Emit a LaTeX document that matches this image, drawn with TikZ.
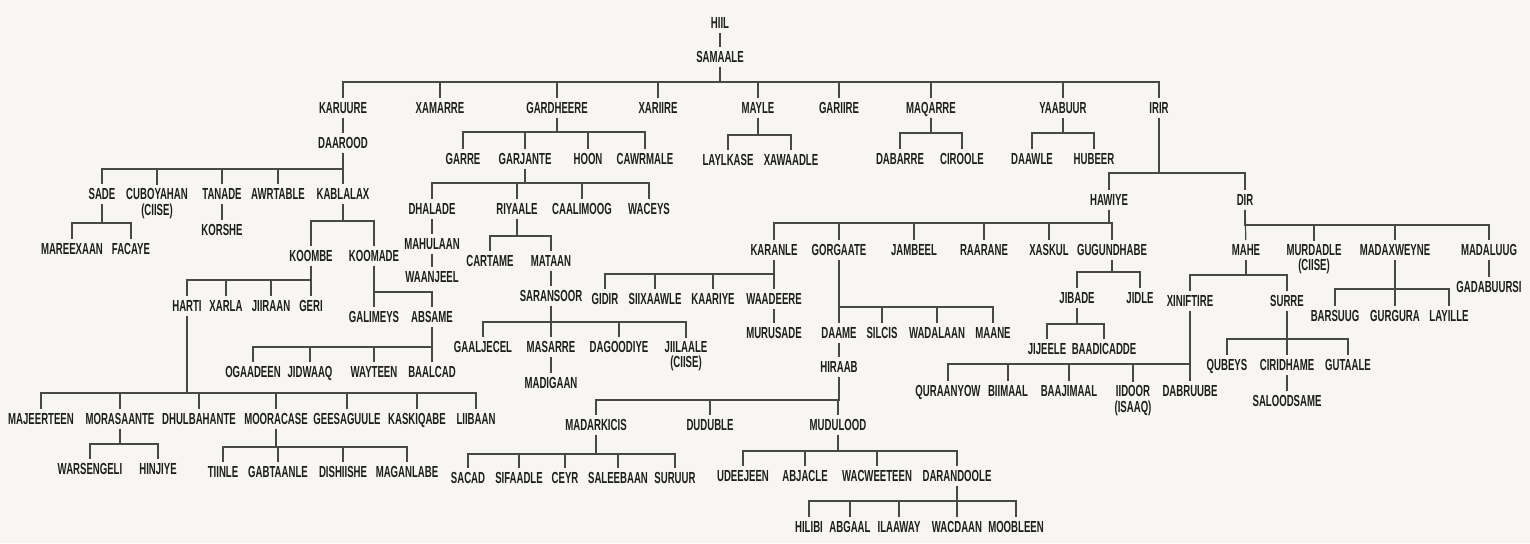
\documentclass[tikz,border=0pt]{standalone}
\usepackage{fontspec}
\newfontfamily\clanfont[FakeStretch=0.60]{Liberation Sans Bold}
\usetikzlibrary{shapes,arrows}
\definecolor{paper}{HTML}{F7F6F2}
\definecolor{ink}{HTML}{1E1E1E}
\definecolor{wire}{HTML}{474747}
\tikzstyle{line} = [draw, wire, line width=0.9pt]
\tikzstyle{clan} = [font=\clanfont\fontsize{12}{11.3}\selectfont, text=ink, inner sep=3pt, text height=8.3pt, text depth=0pt]
\tikzstyle{clan2} = [clan, align=center, text height={}, text depth={}, anchor=north]

\begin{document}
\begin{tikzpicture}[x=0.75pt,y=-0.75pt]
\path [fill=paper, use as bounding box] (0,0) rectangle (1530,543);
% top
\node (hiil) at (720,23) [clan] {HIIL};
\node (samaale) at (720,57) [clan] {SAMAALE};
\node (karuure) at (343,108) [clan] {KARUURE};
\node (xamarre) at (440,108) [clan] {XAMARRE};
\node (gardheere) at (557,108) [clan] {GARDHEERE};
\node (xariire) at (658,108) [clan] {XARIIRE};
\node (mayle) at (758,108) [clan] {MAYLE};
\node (gariire) at (839,108) [clan] {GARIIRE};
\node (maqarre) at (931,108) [clan] {MAQARRE};
\node (yaabuur) at (1063,108) [clan] {YAABUUR};
\node (irir) at (1159,108) [clan] {IRIR};
% daarood
\node (daarood) at (343,143) [clan] {DAAROOD};
\node (sade) at (102,194) [clan] {SADE};
\node (cuboyahan) at (157,184.5) [clan2] {CUBOYAHAN\\(CIISE)};
\node (tanade) at (222,194) [clan] {TANADE};
\node (awrtable) at (278,194) [clan] {AWRTABLE};
\node (kablalax) at (343,194) [clan] {KABLALAX};
\node (korshe) at (222,230) [clan] {KORSHE};
\node (mareexaan) at (72,249) [clan] {MAREEXAAN};
\node (facaye) at (131,249) [clan] {FACAYE};
\node (koombe) at (311,256) [clan] {KOOMBE};
\node (koomade) at (374,256) [clan] {KOOMADE};
\node (harti) at (187,306) [clan] {HARTI};
\node (xarla) at (226,306) [clan] {XARLA};
\node (jiiraan) at (271,306) [clan] {JIIRAAN};
\node (geri) at (311,306) [clan] {GERI};
\node (galimeys) at (374,317) [clan] {GALIMEYS};
\node (absame) at (432,317) [clan] {ABSAME};
\node (ogaadeen) at (253,372) [clan] {OGAADEEN};
\node (jidwaaq) at (310,372) [clan] {JIDWAAQ};
\node (wayteen) at (374,372) [clan] {WAYTEEN};
\node (baalcad) at (432,372) [clan] {BAALCAD};
\node (majeerteen) at (41,419) [clan] {MAJEERTEEN};
\node (morasaante) at (120,419) [clan] {MORASAANTE};
\node (dhulbahante) at (199,419) [clan] {DHULBAHANTE};
\node (mooracase) at (276,419) [clan] {MOORACASE};
\node (geesaguule) at (347,419) [clan] {GEESAGUULE};
\node (kaskiqabe) at (417,419) [clan] {KASKIQABE};
\node (liibaan) at (476,419) [clan] {LIIBAAN};
\node (warsengeli) at (90,469) [clan] {WARSENGELI};
\node (hinjiye) at (158,469) [clan] {HINJIYE};
\node (tiinle) at (223,472) [clan] {TIINLE};
\node (gabtaanle) at (278,472) [clan] {GABTAANLE};
\node (dishiishe) at (343,472) [clan] {DISHIISHE};
\node (maganlabe) at (407,472) [clan] {MAGANLABE};
% gardheere
\node (garre) at (463,159) [clan] {GARRE};
\node (garjante) at (525,159) [clan] {GARJANTE};
\node (hoon) at (588,159) [clan] {HOON};
\node (cawrmale) at (645,159) [clan] {CAWRMALE};
\node (dhalade) at (432,209) [clan] {DHALADE};
\node (riyaale) at (517,209) [clan] {RIYAALE};
\node (caalimoog) at (582,209) [clan] {CAALIMOOG};
\node (waceys) at (649,209) [clan] {WACEYS};
\node (mahulaan) at (432,244) [clan] {MAHULAAN};
\node (waanjeel) at (432,277) [clan] {WAANJEEL};
\node (cartame) at (490,261) [clan] {CARTAME};
\node (mataan) at (551,261) [clan] {MATAAN};
\node (saransoor) at (551,296) [clan] {SARANSOOR};
\node (gaaljecel) at (483,347) [clan] {GAALJECEL};
\node (masarre) at (551,347) [clan] {MASARRE};
\node (dagoodiye) at (619,347) [clan] {DAGOODIYE};
\node (jiilaale) at (686,337.5) [clan2] {JIILAALE\\(CIISE)};
\node (madigaan) at (551,383) [clan] {MADIGAAN};
% mayle, maqarre, yaabuur
\node (laylkase) at (728,160) [clan] {LAYLKASE};
\node (xawaadle) at (791,160) [clan] {XAWAADLE};
\node (dabarre) at (900,159) [clan] {DABARRE};
\node (ciroole) at (962,159) [clan] {CIROOLE};
\node (daawle) at (1032,159) [clan] {DAAWLE};
\node (hubeer) at (1094,159) [clan] {HUBEER};
% irir
\node (hawiye) at (1109,200) [clan] {HAWIYE};
\node (dir) at (1245,200) [clan] {DIR};
\node (karanle) at (774,250) [clan] {KARANLE};
\node (gorgaate) at (839,250) [clan] {GORGAATE};
\node (jambeel) at (914,250) [clan] {JAMBEEL};
\node (raarane) at (984,250) [clan] {RAARANE};
\node (xaskul) at (1049,250) [clan] {XASKUL};
\node (gugundhabe) at (1112,250) [clan] {GUGUNDHABE};
\node (gidir) at (605,299) [clan] {GIDIR};
\node (siixaawle) at (655,299) [clan] {SIIXAAWLE};
\node (kaariye) at (713,299) [clan] {KAARIYE};
\node (waadeere) at (774,299) [clan] {WAADEERE};
\node (murusade) at (774,333) [clan] {MURUSADE};
\node (daame) at (839,333) [clan] {DAAME};
\node (silcis) at (882,333) [clan] {SILCIS};
\node (wadalaan) at (937,333) [clan] {WADALAAN};
\node (maane) at (993,333) [clan] {MAANE};
\node (hiraab) at (839,367) [clan] {HIRAAB};
\node (madarkicis) at (596,425) [clan] {MADARKICIS};
\node (duduble) at (710,425) [clan] {DUDUBLE};
\node (mudulood) at (838,425) [clan] {MUDULOOD};
\node (sacad) at (468,478) [clan] {SACAD};
\node (sifaadle) at (519,478) [clan] {SIFAADLE};
\node (ceyr) at (565,478) [clan] {CEYR};
\node (saleebaan) at (618,478) [clan] {SALEEBAAN};
\node (suruur) at (675,478) [clan] {SURUUR};
\node (udeejeen) at (743,476) [clan] {UDEEJEEN};
\node (abjacle) at (805,476) [clan] {ABJACLE};
\node (wacweeteen) at (877,476) [clan] {WACWEETEEN};
\node (darandoole) at (957,476) [clan] {DARANDOOLE};
\node (hilibi) at (809,527) [clan] {HILIBI};
\node (abgaal) at (850,527) [clan] {ABGAAL};
\node (ilaaway) at (899,527) [clan] {ILAAWAY};
\node (wacdaan) at (957,527) [clan] {WACDAAN};
\node (moobleen) at (1016,527) [clan] {MOOBLEEN};
\node (jibade) at (1077,298) [clan] {JIBADE};
\node (jidle) at (1140,298) [clan] {JIDLE};
\node (jijeele) at (1047,349) [clan] {JIJEELE};
\node (baadicadde) at (1104,349) [clan] {BAADICADDE};
% dir
\node (mahe) at (1246,250) [clan] {MAHE};
\node (murdadle) at (1314,240.5) [clan2] {MURDADLE\\(CIISE)};
\node (madaxweyne) at (1395,250) [clan] {MADAXWEYNE};
\node (madaluug) at (1489,250) [clan] {MADALUUG};
\node (gadabuursi) at (1489,287) [clan] {GADABUURSI};
\node (barsuug) at (1335,316) [clan] {BARSUUG};
\node (gurgura) at (1395,316) [clan] {GURGURA};
\node (layille) at (1449,316) [clan] {LAYILLE};
\node (xiniftire) at (1190,301) [clan] {XINIFTIRE};
\node (surre) at (1287,301) [clan] {SURRE};
\node (qubeys) at (1227,365) [clan] {QUBEYS};
\node (ciridhame) at (1287,365) [clan] {CIRIDHAME};
\node (gutaale) at (1348,365) [clan] {GUTAALE};
\node (saloodsame) at (1287,401) [clan] {SALOODSAME};
\node (quraanyow) at (948,391) [clan] {QURAANYOW};
\node (biimaal) at (1008,391) [clan] {BIIMAAL};
\node (baajimaal) at (1069,391) [clan] {BAAJIMAAL};
\node (iidoor) at (1133,381.5) [clan2] {IIDOOR\\(ISAAQ)};
\node (dabruube) at (1190,391) [clan] {DABRUUBE};
% fork levels
\coordinate (fsamaale) at (720,82);
\coordinate (fdaarood) at (343,169);
\coordinate (fsade) at (102,223);
\coordinate (fkablalax) at (343,221);
\coordinate (fkoombe) at (311,280);
\coordinate (fkoomade) at (374,292);
\coordinate (fabsame) at (432,347);
\coordinate (fharti) at (187,393);
\coordinate (fmorasaante) at (121,444);
\coordinate (fmooracase) at (276,447);
\coordinate (fgardheere) at (557,132);
\coordinate (fgarjante) at (525,183);
\coordinate (friyaale) at (517,236);
\coordinate (fsaransoor) at (551,322);
\coordinate (fmayle) at (758,135);
\coordinate (fmaqarre) at (931,133);
\coordinate (fyaabuur) at (1063,133);
\coordinate (firir) at (1159,173);
\coordinate (fhawiye) at (1109,223);
\coordinate (fkaranle) at (774,274);
\coordinate (fgorgaate) at (839,307);
\coordinate (fhiraab) at (839,400);
\coordinate (fmadarkicis) at (596,454);
\coordinate (fmudulood) at (838,451);
\coordinate (fdarandoole) at (957,501);
\coordinate (fgugundhabe) at (1109,272);
\coordinate (fjibade) at (1077,324);
\coordinate (fdir) at (1245,225);
\coordinate (fmadaxweyne) at (1395,289);
\coordinate (fmahe) at (1246,275);
\coordinate (fsurre) at (1287,339);
\coordinate (fxiniftire) at (1190,364);
% draw lines
\path [line] (hiil) -- (samaale);
\path [line] (samaale) |- (fsamaale -| karuure) -- (karuure);
\path [line] (samaale) |- (fsamaale -| xamarre) -- (xamarre);
\path [line] (samaale) |- (fsamaale -| gardheere) -- (gardheere);
\path [line] (samaale) |- (fsamaale -| xariire) -- (xariire);
\path [line] (samaale) |- (fsamaale -| mayle) -- (mayle);
\path [line] (samaale) |- (fsamaale -| gariire) -- (gariire);
\path [line] (samaale) |- (fsamaale -| maqarre) -- (maqarre);
\path [line] (samaale) |- (fsamaale -| yaabuur) -- (yaabuur);
\path [line] (samaale) |- (fsamaale -| irir) -- (irir);

\path [line] (karuure) -- (daarood);
\path [line] (daarood) |- (fdaarood -| sade) -- (sade);
\path [line] (daarood) |- (fdaarood -| cuboyahan) -- (cuboyahan);
\path [line] (daarood) |- (fdaarood -| tanade) -- (tanade);
\path [line] (daarood) |- (fdaarood -| awrtable) -- (awrtable);
\path [line] (daarood) -- (kablalax);
\path [line] (tanade) -- (korshe);
\path [line] (sade) |- (fsade -| mareexaan) -- (mareexaan);
\path [line] (sade) |- (fsade -| facaye) -- (facaye);
\path [line] (kablalax) |- (fkablalax -| koombe) -- (koombe);
\path [line] (kablalax) |- (fkablalax -| koomade) -- (koomade);
\path [line] (koombe) |- (fkoombe -| harti) -- (harti);
\path [line] (koombe) |- (fkoombe -| xarla) -- (xarla);
\path [line] (koombe) |- (fkoombe -| jiiraan) -- (jiiraan);
\path [line] (koombe) -- (geri);
\path [line] (koomade) -- (galimeys);
\path [line] (koomade) |- (fkoomade -| absame) -- (absame);
\path [line] (absame) |- (fabsame -| ogaadeen) -- (ogaadeen);
\path [line] (absame) |- (fabsame -| jidwaaq) -- (jidwaaq);
\path [line] (absame) |- (fabsame -| wayteen) -- (wayteen);
\path [line] (absame) -- (baalcad);
\path [line] (harti) |- (fharti -| majeerteen) -- (majeerteen);
\path [line] (harti) |- (fharti -| morasaante) -- (morasaante);
\path [line] (harti) |- (fharti -| dhulbahante) -- (dhulbahante);
\path [line] (harti) |- (fharti -| mooracase) -- (mooracase);
\path [line] (harti) |- (fharti -| geesaguule) -- (geesaguule);
\path [line] (harti) |- (fharti -| kaskiqabe) -- (kaskiqabe);
\path [line] (harti) |- (fharti -| liibaan) -- (liibaan);
\path [line] (morasaante) |- (fmorasaante -| warsengeli) -- (warsengeli);
\path [line] (morasaante) |- (fmorasaante -| hinjiye) -- (hinjiye);
\path [line] (mooracase) |- (fmooracase -| tiinle) -- (tiinle);
\path [line] (mooracase) |- (fmooracase -| gabtaanle) -- (gabtaanle);
\path [line] (mooracase) |- (fmooracase -| dishiishe) -- (dishiishe);
\path [line] (mooracase) |- (fmooracase -| maganlabe) -- (maganlabe);

\path [line] (gardheere) |- (fgardheere -| garre) -- (garre);
\path [line] (gardheere) |- (fgardheere -| garjante) -- (garjante);
\path [line] (gardheere) |- (fgardheere -| hoon) -- (hoon);
\path [line] (gardheere) |- (fgardheere -| cawrmale) -- (cawrmale);
\path [line] (garjante) |- (fgarjante -| dhalade) -- (dhalade);
\path [line] (garjante) |- (fgarjante -| riyaale) -- (riyaale);
\path [line] (garjante) |- (fgarjante -| caalimoog) -- (caalimoog);
\path [line] (garjante) |- (fgarjante -| waceys) -- (waceys);
\path [line] (dhalade) -- (mahulaan);
\path [line] (mahulaan) -- (waanjeel);
\path [line] (riyaale) |- (friyaale -| cartame) -- (cartame);
\path [line] (riyaale) |- (friyaale -| mataan) -- (mataan);
\path [line] (mataan) -- (saransoor);
\path [line] (saransoor) |- (fsaransoor -| gaaljecel) -- (gaaljecel);
\path [line] (saransoor) -- (masarre);
\path [line] (saransoor) |- (fsaransoor -| dagoodiye) -- (dagoodiye);
\path [line] (saransoor) |- (fsaransoor -| jiilaale) -- (jiilaale);
\path [line] (masarre) -- (madigaan);

\path [line] (mayle) |- (fmayle -| laylkase) -- (laylkase);
\path [line] (mayle) |- (fmayle -| xawaadle) -- (xawaadle);
\path [line] (maqarre) |- (fmaqarre -| dabarre) -- (dabarre);
\path [line] (maqarre) |- (fmaqarre -| ciroole) -- (ciroole);
\path [line] (yaabuur) |- (fyaabuur -| daawle) -- (daawle);
\path [line] (yaabuur) |- (fyaabuur -| hubeer) -- (hubeer);

\path [line] (irir) |- (firir -| hawiye) -- (hawiye);
\path [line] (irir) |- (firir -| dir) -- (dir);
\path [line] (hawiye) |- (fhawiye -| karanle) -- (karanle);
\path [line] (hawiye) |- (fhawiye -| gorgaate) -- (gorgaate);
\path [line] (hawiye) |- (fhawiye -| jambeel) -- (jambeel);
\path [line] (hawiye) |- (fhawiye -| raarane) -- (raarane);
\path [line] (hawiye) |- (fhawiye -| xaskul) -- (xaskul);
\path [line] (hawiye) |- (fhawiye -| gugundhabe) -- (gugundhabe);
\path [line] (karanle) |- (fkaranle -| gidir) -- (gidir);
\path [line] (karanle) |- (fkaranle -| siixaawle) -- (siixaawle);
\path [line] (karanle) |- (fkaranle -| kaariye) -- (kaariye);
\path [line] (karanle) -- (waadeere);
\path [line] (waadeere) -- (murusade);
\path [line] (gorgaate) -- (daame);
\path [line] (gorgaate) |- (fgorgaate -| silcis) -- (silcis);
\path [line] (gorgaate) |- (fgorgaate -| wadalaan) -- (wadalaan);
\path [line] (gorgaate) |- (fgorgaate -| maane) -- (maane);
\path [line] (daame) -- (hiraab);
\path [line] (hiraab) |- (fhiraab -| madarkicis) -- (madarkicis);
\path [line] (hiraab) |- (fhiraab -| duduble) -- (duduble);
\path [line] (hiraab) |- (fhiraab -| mudulood) -- (mudulood);
\path [line] (madarkicis) |- (fmadarkicis -| sacad) -- (sacad);
\path [line] (madarkicis) |- (fmadarkicis -| sifaadle) -- (sifaadle);
\path [line] (madarkicis) |- (fmadarkicis -| ceyr) -- (ceyr);
\path [line] (madarkicis) |- (fmadarkicis -| saleebaan) -- (saleebaan);
\path [line] (madarkicis) |- (fmadarkicis -| suruur) -- (suruur);
\path [line] (mudulood) |- (fmudulood -| udeejeen) -- (udeejeen);
\path [line] (mudulood) |- (fmudulood -| abjacle) -- (abjacle);
\path [line] (mudulood) |- (fmudulood -| wacweeteen) -- (wacweeteen);
\path [line] (mudulood) |- (fmudulood -| darandoole) -- (darandoole);
\path [line] (darandoole) |- (fdarandoole -| hilibi) -- (hilibi);
\path [line] (darandoole) |- (fdarandoole -| abgaal) -- (abgaal);
\path [line] (darandoole) |- (fdarandoole -| ilaaway) -- (ilaaway);
\path [line] (darandoole) -- (wacdaan);
\path [line] (darandoole) |- (fdarandoole -| moobleen) -- (moobleen);
\path [line] (gugundhabe) |- (fgugundhabe -| jibade) -- (jibade);
\path [line] (gugundhabe) |- (fgugundhabe -| jidle) -- (jidle);
\path [line] (jibade) |- (fjibade -| jijeele) -- (jijeele);
\path [line] (jibade) |- (fjibade -| baadicadde) -- (baadicadde);

\path [line] (dir) -- (mahe);
\path [line] (dir) |- (fdir -| murdadle) -- (murdadle);
\path [line] (dir) |- (fdir -| madaxweyne) -- (madaxweyne);
\path [line] (dir) |- (fdir -| madaluug) -- (madaluug);
\path [line] (madaluug) -- (gadabuursi);
\path [line] (madaxweyne) |- (fmadaxweyne -| barsuug) -- (barsuug);
\path [line] (madaxweyne) -- (gurgura);
\path [line] (madaxweyne) |- (fmadaxweyne -| layille) -- (layille);
\path [line] (mahe) |- (fmahe -| xiniftire) -- (xiniftire);
\path [line] (mahe) |- (fmahe -| surre) -- (surre);
\path [line] (surre) |- (fsurre -| qubeys) -- (qubeys);
\path [line] (surre) -- (ciridhame);
\path [line] (surre) |- (fsurre -| gutaale) -- (gutaale);
\path [line] (ciridhame) -- (saloodsame);
\path [line] (xiniftire) |- (fxiniftire -| quraanyow) -- (quraanyow);
\path [line] (xiniftire) |- (fxiniftire -| biimaal) -- (biimaal);
\path [line] (xiniftire) |- (fxiniftire -| baajimaal) -- (baajimaal);
\path [line] (xiniftire) |- (fxiniftire -| iidoor) -- (iidoor);
\path [line] (xiniftire) -- (dabruube);
\end{tikzpicture}
\end{document}
